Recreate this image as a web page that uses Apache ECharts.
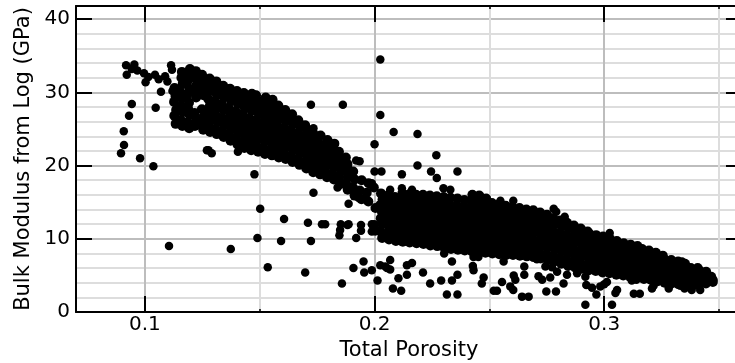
<!DOCTYPE html>
<html>
<head>
<meta charset="utf-8">
<script src="https://cdn.jsdelivr.net/npm/echarts@6/dist/echarts.min.js"></script>
<style>html,body{margin:0;padding:0;background:#fff;}#c{width:735px;height:363px;}</style>
</head>
<body>
<div id="c"></div>
<script>
// Axis ranges / titles
const xRange = [0.07, 0.36];
const yRange = [0, 41.8];
const xTitle = 'Total Porosity';
const yTitle = 'Bulk Modulus from Log (GPa)';

// Data: [total porosity, bulk modulus (GPa)]
const band1 = [
[0.1134,25.7],[0.1128,26.8],[0.1136,27.6],[0.1127,28.7],[0.1133,29.5],[0.1129,30.6],
[0.1163,25.4],[0.1157,26.2],[0.1165,27.3],[0.1158,28.1],[0.1162,29.2],[0.1155,30.0],[0.1164,31.1],[0.1159,32.0],[0.1161,32.8],
[0.1193,25.1],[0.1186,25.9],[0.1195,26.9],[0.1188,27.8],[0.1192,28.6],[0.1185,29.7],[0.1194,30.5],[0.1187,31.6],[0.1191,32.4],[0.1196,33.2],
[0.1218,25.4],[0.1224,26.3],[0.1216,27.2],[0.1223,29.3],[0.1217,30.1],[0.1225,31.0],[0.1219,32.0],[0.1222,32.9],
[0.1254,24.9],[0.1246,25.8],[0.1253,26.6],[0.1248,27.7],[0.1255,29.6],[0.1247,30.5],[0.1252,31.5],[0.1249,32.4],
[0.1284,24.6],[0.1277,25.5],[0.1285,26.4],[0.1278,27.3],[0.1283,28.2],[0.1276,29.1],[0.1286,30.2],[0.1279,31.0],[0.1282,31.9],
[0.1313,24.3],[0.1306,25.0],[0.1315,26.0],[0.1307,26.9],[0.1312,27.8],[0.1305,28.7],[0.1314,29.6],[0.1308,30.6],[0.1311,31.5],
[0.1343,23.9],[0.1336,24.8],[0.1344,25.6],[0.1337,26.5],[0.1342,27.6],[0.1335,28.4],[0.1345,29.3],[0.1338,30.2],[0.1341,30.9],
[0.1373,23.4],[0.1366,24.3],[0.1374,25.2],[0.1367,26.1],[0.1372,27.0],[0.1365,27.9],[0.1375,28.9],[0.1368,29.8],[0.1371,30.5],
[0.1403,22.9],[0.1396,23.8],[0.1404,24.7],[0.1397,25.7],[0.1402,26.5],[0.1395,27.4],[0.1405,28.4],[0.1398,29.3],[0.1401,30.2],
[0.1433,22.4],[0.1426,23.3],[0.1434,24.2],[0.1427,25.1],[0.1432,26.0],[0.1425,27.0],[0.1435,27.9],[0.1428,28.8],[0.1431,29.9],
[0.1463,22.1],[0.1456,22.9],[0.1464,23.8],[0.1457,24.7],[0.1462,25.6],[0.1455,26.5],[0.1465,27.5],[0.1458,28.4],[0.1461,29.3],[0.1466,29.8],
[0.1493,21.9],[0.1486,22.7],[0.1494,23.6],[0.1487,24.4],[0.1492,25.3],[0.1485,26.2],[0.1495,27.1],[0.1488,28.0],[0.1491,28.9],[0.1484,29.6],
[0.1523,21.6],[0.1516,22.4],[0.1524,23.3],[0.1517,24.2],[0.1522,25.0],[0.1515,25.9],[0.1525,26.8],[0.1518,27.7],[0.1521,28.5],[0.1526,29.3],
[0.1553,21.4],[0.1546,22.2],[0.1554,23.1],[0.1547,24.0],[0.1552,24.9],[0.1545,25.8],[0.1555,26.6],[0.1548,27.5],[0.1551,28.3],[0.1556,29.0],
[0.1583,21.1],[0.1576,22.0],[0.1584,22.8],[0.1577,23.7],[0.1582,24.6],[0.1575,25.5],[0.1585,26.4],[0.1578,27.2],[0.1581,28.2]
];
const band2 = [
[0.1613,20.9],[0.1606,21.7],[0.1614,22.6],[0.1607,23.5],[0.1612,24.3],[0.1605,25.2],[0.1615,26.1],[0.1608,26.9],[0.1611,27.6],
[0.1643,20.5],[0.1636,21.3],[0.1644,22.2],[0.1637,23.1],[0.1642,24.0],[0.1635,24.9],[0.1645,25.7],[0.1638,26.5],[0.1641,27.0],
[0.1673,20.1],[0.1666,20.9],[0.1674,21.8],[0.1667,22.7],[0.1672,23.6],[0.1665,24.4],[0.1675,25.3],[0.1668,26.2],
[0.1703,19.6],[0.1696,20.5],[0.1704,21.4],[0.1697,22.2],[0.1702,23.1],[0.1695,24.0],[0.1705,24.8],[0.1698,25.5],
[0.1733,19.1],[0.1726,20.0],[0.1734,20.9],[0.1727,21.8],[0.1732,22.6],[0.1725,23.5],[0.1735,24.3],[0.1728,24.8],
[0.1763,18.8],[0.1756,19.7],[0.1764,20.5],[0.1757,21.4],[0.1762,22.3],[0.1755,23.2],[0.1765,24.1],
[0.1793,18.4],[0.1786,19.2],[0.1794,20.1],[0.1787,21.0],[0.1792,21.8],[0.1785,22.7],[0.1795,23.5],
[0.1823,18.1],[0.1816,18.9],[0.1824,19.8],[0.1817,20.6],[0.1822,21.5],[0.1815,22.3],[0.1825,23.0],
[0.1853,17.5],[0.1846,18.4],[0.1854,19.3],[0.1847,20.1],[0.1852,21.0],[0.1845,21.9],
[0.1883,16.7],[0.1876,17.6],[0.1884,18.5],[0.1877,19.3],[0.1882,20.2],[0.1875,21.1],
[0.1913,15.9],[0.1906,17.0],[0.1914,18.1],[0.1907,19.2],
[0.1943,15.4],[0.1936,16.6],[0.1944,18.0],
[0.1973,15.1],[0.1966,16.3],[0.1974,17.6]
];
const band3 = [
[0.2003,11.1],[0.1998,11.9],[0.2004,14.2],[0.1997,17.0],
[0.2033,10.1],[0.2026,11.0],[0.2034,12.0],[0.2027,12.8],[0.2032,13.7],[0.2025,14.6],[0.2035,15.4],[0.2028,16.2],
[0.2063,9.9],[0.2056,10.6],[0.2064,11.5],[0.2057,12.4],[0.2062,13.3],[0.2055,14.2],[0.2065,15.0],[0.2058,15.9],
[0.2093,9.7],[0.2086,10.5],[0.2094,11.3],[0.2087,12.2],[0.2092,13.1],[0.2085,13.9],[0.2095,14.8],[0.2088,15.7],
[0.2123,9.6],[0.2116,10.4],[0.2124,11.2],[0.2117,12.0],[0.2122,12.9],[0.2115,13.8],[0.2125,14.6],[0.2118,15.5],[0.2121,16.2],
[0.2153,9.5],[0.2146,10.3],[0.2154,11.1],[0.2147,12.0],[0.2152,12.8],[0.2145,13.7],[0.2155,14.5],[0.2148,15.3],[0.2151,16.1],
[0.2183,9.4],[0.2176,10.2],[0.2184,11.0],[0.2177,11.9],[0.2182,12.7],[0.2175,13.6],[0.2185,14.4],[0.2178,15.2],[0.2181,16.0],
[0.2213,9.3],[0.2206,10.1],[0.2214,10.9],[0.2207,11.8],[0.2212,12.6],[0.2205,13.5],[0.2215,14.3],[0.2208,15.2],[0.2211,16.0],
[0.2243,9.1],[0.2236,9.9],[0.2244,10.8],[0.2237,11.6],[0.2242,12.5],[0.2235,13.3],[0.2245,14.2],[0.2238,15.0],[0.2241,15.9],
[0.2273,9.0],[0.2266,9.8],[0.2274,10.6],[0.2267,11.5],[0.2272,12.3],[0.2265,13.2],[0.2275,14.0],[0.2268,14.9],[0.2271,15.8],
[0.2303,8.8],[0.2296,9.6],[0.2304,10.5],[0.2297,11.3],[0.2302,12.2],[0.2295,13.0],[0.2305,13.9],[0.2298,14.8],[0.2301,15.7],
[0.2333,8.6],[0.2326,9.5],[0.2334,10.3],[0.2327,11.2],[0.2332,12.0],[0.2325,12.9],[0.2335,13.7],[0.2328,14.6],[0.2331,15.6],
[0.2363,8.5],[0.2356,9.3],[0.2364,10.2],[0.2357,11.0],[0.2362,11.9],[0.2355,12.7],[0.2365,13.6],[0.2358,14.5],[0.2361,15.5],
[0.2393,8.4],[0.2386,9.2],[0.2394,10.1],[0.2387,10.9],[0.2392,11.8],[0.2385,12.6],[0.2395,13.5],[0.2388,14.4],[0.2391,15.3],
[0.2423,8.3],[0.2416,9.1],[0.2424,10.0],[0.2417,10.8],[0.2422,11.7],[0.2415,12.5],[0.2425,13.4],[0.2418,14.3],[0.2421,15.2],[0.2426,16.0],
[0.2453,8.2],[0.2446,9.0],[0.2454,9.9],[0.2447,10.7],[0.2452,11.6],[0.2445,12.4],[0.2455,13.3],[0.2448,14.2],[0.2451,15.1],[0.2456,15.9],
[0.2483,8.1],[0.2476,8.9],[0.2484,9.8],[0.2477,10.6],[0.2482,11.5],[0.2475,12.3],[0.2485,13.2],[0.2478,14.1],[0.2481,14.9],[0.2486,15.5]
];
const band4 = [
[0.2513,8.0],[0.2506,8.8],[0.2514,9.7],[0.2507,10.5],[0.2512,11.4],[0.2505,12.2],[0.2515,13.1],[0.2508,14.0],[0.2511,14.9],
[0.2543,7.9],[0.2536,8.7],[0.2544,9.6],[0.2537,10.4],[0.2542,11.3],[0.2535,12.1],[0.2545,13.0],[0.2538,13.8],[0.2541,14.7],
[0.2573,7.8],[0.2566,8.6],[0.2574,9.5],[0.2567,10.3],[0.2572,11.2],[0.2565,12.0],[0.2575,12.9],[0.2568,13.7],[0.2571,14.5],
[0.2603,7.8],[0.2596,8.6],[0.2604,9.4],[0.2597,10.3],[0.2602,11.1],[0.2595,12.0],[0.2605,12.8],[0.2598,13.6],[0.2601,14.3],
[0.2633,7.7],[0.2626,8.5],[0.2634,9.4],[0.2627,10.2],[0.2632,11.0],[0.2625,11.9],[0.2635,12.7],[0.2628,13.5],[0.2631,14.2],
[0.2663,7.6],[0.2656,8.4],[0.2664,9.3],[0.2657,10.1],[0.2662,11.0],[0.2655,11.8],[0.2665,12.6],[0.2658,13.4],[0.2661,14.0],
[0.2693,7.5],[0.2686,8.3],[0.2694,9.2],[0.2687,10.0],[0.2692,10.9],[0.2685,11.7],[0.2695,12.5],[0.2688,13.3],[0.2691,13.9],
[0.2723,7.3],[0.2716,8.1],[0.2724,9.0],[0.2717,9.8],[0.2722,10.7],[0.2715,11.5],[0.2725,12.4],[0.2718,13.2],[0.2721,13.6],
[0.2753,7.1],[0.2746,7.9],[0.2754,8.8],[0.2747,9.6],[0.2752,10.5],[0.2745,11.3],[0.2755,12.2],[0.2748,13.0],[0.2751,13.3],
[0.2783,6.9],[0.2776,7.7],[0.2784,8.6],[0.2777,9.4],[0.2782,10.3],[0.2775,11.1],[0.2785,12.0],[0.2778,12.8],
[0.2813,6.6],[0.2806,7.4],[0.2814,8.3],[0.2807,9.1],[0.2812,10.0],[0.2805,10.8],[0.2815,11.7],[0.2808,12.5],
[0.2843,6.3],[0.2836,7.1],[0.2844,8.0],[0.2837,8.8],[0.2842,9.7],[0.2835,10.5],[0.2845,11.4],[0.2838,12.2],
[0.2873,6.1],[0.2866,6.9],[0.2874,7.8],[0.2867,8.6],[0.2872,9.5],[0.2865,10.3],[0.2875,11.1],[0.2868,11.8],
[0.2903,5.9],[0.2896,6.7],[0.2904,7.6],[0.2897,8.4],[0.2902,9.3],[0.2895,10.1],[0.2905,10.9],[0.2898,11.4],
[0.2933,5.7],[0.2926,6.5],[0.2934,7.4],[0.2927,8.2],[0.2932,9.0],[0.2925,9.9],[0.2935,10.7],[0.2928,11.0],
[0.2963,5.6],[0.2956,6.4],[0.2964,7.2],[0.2957,8.1],[0.2962,8.9],[0.2955,9.7],[0.2965,10.5],
[0.2993,5.4],[0.2986,6.2],[0.2994,7.0],[0.2987,7.9],[0.2992,8.7],[0.2985,9.5],[0.2995,10.3]
];
const band5 = [
[0.3023,5.3],[0.3016,6.1],[0.3024,6.9],[0.3017,7.7],[0.3022,8.6],[0.3015,9.4],[0.3025,10.0],
[0.3053,5.1],[0.3046,5.9],[0.3054,6.7],[0.3047,7.6],[0.3052,8.4],[0.3045,9.2],[0.3055,9.7],
[0.3083,5.0],[0.3076,5.8],[0.3084,6.6],[0.3077,7.4],[0.3082,8.2],[0.3075,9.0],[0.3085,9.4],
[0.3113,4.8],[0.3106,5.6],[0.3114,6.4],[0.3107,7.3],[0.3112,8.1],[0.3105,8.9],[0.3115,9.2],
[0.3143,4.7],[0.3136,5.5],[0.3144,6.3],[0.3137,7.1],[0.3142,7.9],[0.3135,8.7],[0.3145,9.0],
[0.3173,4.5],[0.3166,5.3],[0.3174,6.1],[0.3167,7.0],[0.3172,7.8],[0.3165,8.6],
[0.3203,4.4],[0.3196,5.2],[0.3204,6.0],[0.3197,6.8],[0.3202,7.6],[0.3195,8.4],
[0.3233,4.2],[0.3226,5.0],[0.3234,5.8],[0.3227,6.6],[0.3232,7.4],[0.3225,8.1],
[0.3263,4.0],[0.3256,4.8],[0.3264,5.6],[0.3257,6.4],[0.3262,7.2],[0.3255,7.7],
[0.3293,3.9],[0.3286,4.7],[0.3294,5.5],[0.3287,6.3],[0.3292,7.1],
[0.3323,3.8],[0.3316,4.6],[0.3324,5.4],[0.3317,6.2],[0.3322,6.9],
[0.3353,3.7],[0.3346,4.5],[0.3354,5.3],[0.3347,6.1],[0.3352,6.6],
[0.3383,3.6],[0.3376,4.4],[0.3384,5.2],[0.3377,6.0],
[0.3413,3.7],[0.3406,4.5],[0.3414,5.3],[0.3407,6.0],
[0.3443,3.9],[0.3436,4.7],[0.3444,5.5],
[0.3473,4.1],[0.3466,4.8]
];
const outliersLeft = [
[0.0918,33.7],[0.0921,32.4],[0.0943,33.2],[0.0954,33.8],[0.0967,33.0],[0.0996,32.6],[0.1003,31.4],[0.1015,32.1],
[0.1044,32.4],[0.1060,31.8],[0.1088,32.2],[0.1098,31.5],[0.1114,33.7],[0.1118,33.1],[0.1070,30.1],[0.1120,30.2],
[0.0943,28.4],[0.1047,27.9],[0.0931,26.8],[0.0908,24.7],[0.0909,22.8],[0.0896,21.7],[0.0979,21.0],[0.1037,19.9],
[0.1270,22.1],[0.1277,22.1],[0.1291,21.7],[0.1405,21.9],[0.1412,22.5]
];
const outliersMid = [
[0.1477,18.8],[0.1502,14.1],[0.1723,28.3],[0.1862,28.3],[0.1734,25.1],[0.1734,16.3],[0.1839,17.0],[0.1887,14.8],
[0.1930,15.6],[0.1884,19.9],[0.1920,20.7],[0.1935,20.6],[0.1988,17.6],[0.2000,22.9],[0.2000,19.2],[0.2030,19.2],
[0.2025,34.5],[0.2025,26.9],[0.2083,24.6],[0.2187,24.3],[0.2269,21.4],[0.2187,20.0],[0.2246,19.2],[0.2361,19.2],
[0.2119,18.8],[0.2271,18.3],[0.2300,16.9],[0.2330,16.7],[0.2119,16.9],[0.2163,16.7],[0.2068,16.7]
];
const outliersLow = [
[0.1105,9.0],[0.1374,8.6],[0.1490,10.1],[0.1535,6.1],[0.1593,9.7],[0.1606,12.7],[0.1710,12.2],[0.1723,9.7],
[0.1698,5.4],[0.1771,12.0],[0.1785,12.0],[0.1850,11.2],[0.1853,12.0],[0.1887,12.0],[0.1847,10.5],[0.1858,3.9],
[0.1908,6.0],[0.1920,10.1],[0.1882,11.9],[0.1941,11.9],[0.1941,11.1],[0.1988,12.0],[0.1988,11.0],[0.1952,6.9],
[0.1955,5.4],[0.1988,5.7],[0.2013,4.3],[0.2025,6.4],[0.2047,6.2],[0.2054,6.0],[0.2068,7.1],[0.2068,5.8],
[0.2080,3.2],[0.2116,2.9],[0.2104,4.6],[0.2141,5.1],[0.2141,6.4],[0.2163,6.7],[0.2211,5.4],[0.2242,3.9],
[0.2290,4.3],[0.2315,2.4],[0.2361,2.4],[0.2337,4.3],[0.2361,5.1],[0.2337,6.9],[0.2303,8.0],[0.2431,7.5],
[0.2452,7.5],[0.2431,5.7],[0.2428,6.3],[0.2475,4.7],[0.2467,3.9],[0.2519,2.9],[0.2533,2.9],[0.2555,4.1],
[0.2562,6.9],[0.2606,5.0],[0.2613,4.4],[0.2591,3.5],[0.2604,3.0],[0.2642,2.1],[0.2671,2.1],[0.2652,6.2],
[0.2652,5.1],[0.2707,7.2],[0.2714,4.9],[0.2730,4.4],[0.2748,2.8],[0.2790,2.8],[0.2765,4.7],[0.2823,3.9],
[0.2744,6.2],[0.2773,6.1],[0.2795,5.5],[0.2838,5.1],[0.2882,5.3],[0.2918,4.8],[0.2922,3.7],[0.2947,3.3],
[0.2966,2.4],[0.2918,1.0],[0.2983,3.5],[0.3012,4.1],[0.3000,3.8],[0.3034,1.0],[0.3049,2.6],[0.3056,3.0],
[0.3120,4.3],[0.3140,4.4],[0.3129,2.5],[0.3155,2.5],[0.3208,3.2],[0.3215,3.6],[0.3281,3.2],[0.3332,3.6],
[0.3350,3.2],[0.3381,3.0],[0.3418,3.0],[0.3463,4.4],[0.3476,4.4]
];
const outliersRight = [
[0.2548,15.2],[0.2604,15.2],[0.2780,14.1],[0.2791,13.7],[0.2828,13.0],[0.3024,10.8],[0.3303,6.9],[0.3339,6.9],[0.3418,5.7]
];

const bandPoints = [].concat(band1, band2, band3, band4, band5);
const scatteredPoints = [].concat(outliersLeft, outliersMid, outliersLow, outliersRight);

const FONT = 'DejaVu Sans';
const chart = echarts.init(document.getElementById('c'), null, {renderer: 'canvas'});
const axisLineStyle = {color: '#000', width: 2};
function xAxisCfg(pos, main) {
  return {
    type: 'value', position: pos, min: xRange[0], max: xRange[1], splitNumber: 3,
    axisLine: {show: true, onZero: false, lineStyle: axisLineStyle},
    axisTick: {show: true, inside: true, length: 16, lineStyle: {color: '#000', width: 2}},
    minorTick: {show: true, splitNumber: 2, length: 3, lineStyle: {color: '#000', width: 1.5}},
    axisLabel: {show: main, margin: 3, fontSize: 20, color: '#000', fontFamily: FONT, showMinLabel: false, showMaxLabel: false},
    splitLine: {show: main, lineStyle: {color: '#bdbdbd', width: 2}},
    minorSplitLine: {show: main, lineStyle: {color: '#dddddd', width: 2}},
    name: main ? xTitle : '', nameLocation: 'middle', nameGap: 23,
    nameTextStyle: {fontSize: 21, color: '#000', fontFamily: FONT}
  };
}
function yAxisCfg(pos, main) {
  return {
    type: 'value', position: pos, min: yRange[0], max: yRange[1], splitNumber: 4,
    axisLine: {show: true, onZero: false, lineStyle: axisLineStyle},
    axisTick: {show: true, inside: true, length: 16, lineStyle: {color: '#000', width: 2}},
    minorTick: {show: false, splitNumber: 5},
    axisLabel: {show: main, margin: 6, fontSize: 20, color: '#000', fontFamily: FONT, showMaxLabel: false},
    splitLine: {show: main, lineStyle: {color: '#bdbdbd', width: 2}},
    minorSplitLine: {show: main, lineStyle: {color: '#dddddd', width: 2}},
    name: main ? yTitle : '', nameLocation: 'middle', nameGap: 42, nameRotate: 90,
    nameTextStyle: {fontSize: 21, color: '#000', fontFamily: FONT}
  };
}
chart.setOption({
  animation: false,
  backgroundColor: '#fff',
  grid: {left: 76, top: 6, right: -7, bottom: 51, containLabel: false, outerBoundsMode: 'none'},
  xAxis: [xAxisCfg('bottom', true), xAxisCfg('top', false)],
  yAxis: [yAxisCfg('left', true), yAxisCfg('right', false)],
  series: [{
    type: 'scatter', xAxisIndex: 0, yAxisIndex: 0,
    symbol: 'circle', symbolSize: 10, silent: true,
    itemStyle: {color: '#000', opacity: 1},
    data: bandPoints
  }, {
    type: 'scatter', xAxisIndex: 0, yAxisIndex: 0,
    symbol: 'circle', symbolSize: 8.5, silent: true,
    itemStyle: {color: '#000', opacity: 1},
    data: scatteredPoints
  }]
});
</script>
</body>
</html>
